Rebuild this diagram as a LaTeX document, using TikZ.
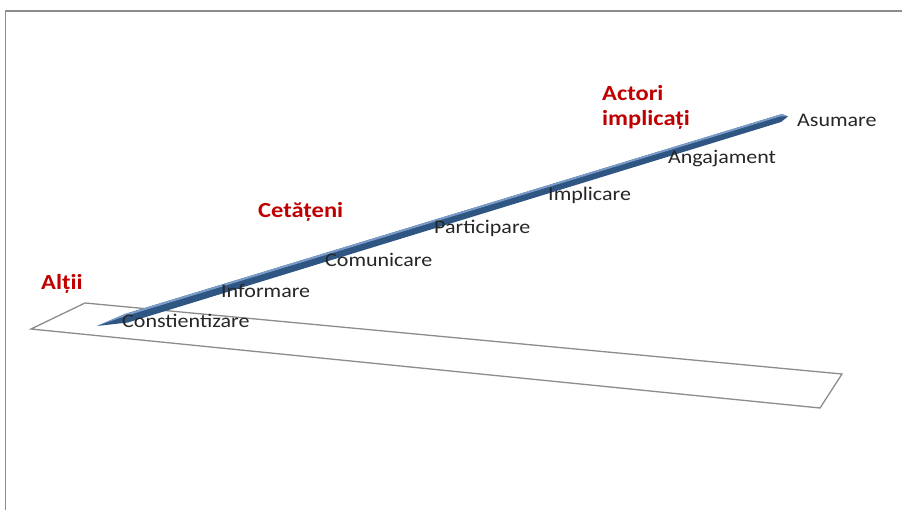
\documentclass[tikz,border=0pt]{standalone}
\usepackage{fontspec}
\setmainfont{Carlito}
\newfontfamily\widecarlito{Carlito}[FakeStretch=1.14]
\definecolor{frameGray}{HTML}{8C8C8C}
\definecolor{stageText}{HTML}{262626}
\definecolor{groupRed}{HTML}{C00000}
\definecolor{beamDark}{HTML}{2F5583}
\definecolor{beamLight}{HTML}{7A9CC8}

\begin{document}
\begin{tikzpicture}[
  x=1pt, y=-1pt,
  stage/.style={anchor=base west, inner sep=0pt, text=stageText,
                font=\widecarlito\fontsize{19.3}{24}\selectfont},
  group/.style={anchor=base west, inner sep=0pt, text=groupRed, align=left,
                font=\widecarlito\fontsize{21.5}{25}\selectfont\bfseries},
  edge/.style={draw=frameGray, line width=1.3pt},
]
\useasboundingbox (0,0) rectangle (902,510);

% ------------------------------------------------------------------ frame
\draw[edge, line width=1.7pt] (5.5,512) -- (5.5,11) -- (904,11);

% ------------------------------------------------------------- base plane
\draw[edge, line join=miter] (31,329) -- (85,303) -- (842,374) -- (820,408) -- cycle;

% ------------------------------------------------------------------- beam
\fill[beamDark] (97,326) -- (125,314) -- (782,114) -- (788,116.5)
      -- (781,122) -- (128,322.5) -- cycle;
\fill[beamLight] (97,326) -- (125,314) -- (782,114) -- (788,116.5)
      -- (780,116.5) -- (124,316.5) -- cycle;

% ----------------------------------------------------------------- stages
\node[stage] (constientizare) at (122,328) {Constientizare};
\node[stage] (informare)      at (221,298) {Informare};
\node[stage] (comunicare)     at (325,267) {Comunicare};
\node[stage] (participare)    at (434,234) {Participare};
\node[stage] (implicare)      at (548,201) {Implicare};
\node[stage] (angajament)     at (668,164) {Angajament};
\node[stage] (asumare)        at (797,127) {Asumare};

% ----------------------------------------------------------------- groups
\node[group] (altii)    at (41,290)    {Alții};
\node[group] (cetateni) at (258,217.5) {Cetățeni};
\node[group] (actori)   at (602,126)   {Actori\\implicați};
\end{tikzpicture}
\end{document}
